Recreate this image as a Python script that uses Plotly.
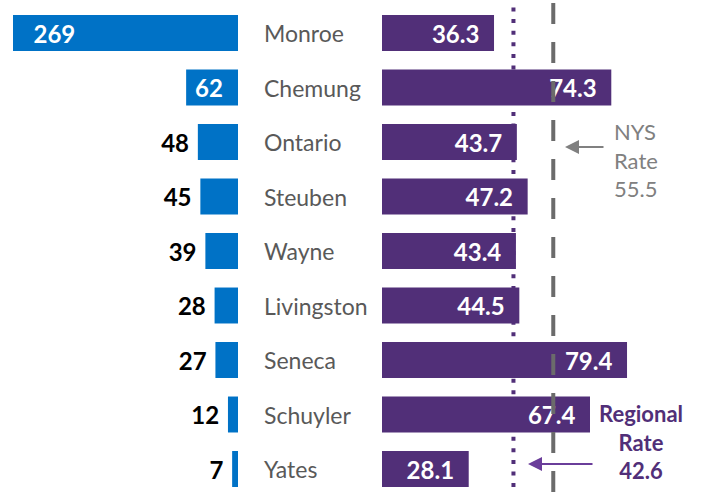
import plotly.graph_objects as go

# ---- data ----
counties = ["Monroe", "Chemung", "Ontario", "Steuben", "Wayne",
            "Livingston", "Seneca", "Schuyler", "Yates"]
counts = [269, 62, 48, 45, 39, 28, 27, 12, 7]
rates = [36.3, 74.3, 43.7, 47.2, 43.4, 44.5, 79.4, 67.4, 28.1]
nys_rate = 55.5
regional_rate = 42.6
count_textpos = ["inside", "inside", "outside", "outside", "outside",
                 "outside", "outside", "outside", "outside"]

W, H = 704, 492
BLUE = "#0072C6"
PURPLE = "#512F78"
FONT = "Lato"

fig = go.Figure()

fig.add_trace(go.Bar(
    y=counties, x=counts, orientation="h", xaxis="x", yaxis="y",
    marker=dict(color=BLUE, line=dict(width=0)), width=0.66,
    text=[str(c) for c in counts],
    texttemplate=["\u00a0\u00a0\u00a0%{text}", "\u00a0%{text}"] + ["%{text}\u00a0"] * 7,
    textposition=count_textpos, insidetextanchor="end",
    insidetextfont=dict(family=FONT, size=24, color="white", weight="bold"),
    outsidetextfont=dict(family=FONT, size=24, color="black", weight="bold"),
    cliponaxis=False, hoverinfo="skip", constraintext="none",
))

fig.add_trace(go.Bar(
    y=counties, x=rates, orientation="h", xaxis="x2", yaxis="y",
    marker=dict(color=PURPLE, line=dict(width=0)), width=0.66,
    text=[f"{r:.1f}" for r in rates],
    texttemplate="%{text}\u00a0\u00a0",
    textposition="inside", insidetextanchor="end",
    insidetextfont=dict(family=FONT, size=24, color="white", weight="bold"),
    hoverinfo="skip", constraintext="none",
))

# county names
for c in counties:
    fig.add_annotation(x=262 / W, xref="paper", y=c, yref="y", text=c,
                       showarrow=False, xanchor="left", yanchor="middle",
                       font=dict(family=FONT, size=23, color="#595959"))

# reference lines
fig.add_shape(type="line", xref="x2", yref="paper", x0=regional_rate, x1=regional_rate,
              y0=0.01, y1=1, layer="below",
              line=dict(color=PURPLE, width=4, dash="4px,7.6px"))
fig.add_shape(type="line", xref="x2", yref="paper", x0=nys_rate, x1=nys_rate,
              y0=0, y1=1, layer="above",
              line=dict(color="#6B6B6B", width=4, dash="21px,18px"))

# NYS annotation
fig.add_annotation(x=612 / W, xref="paper", y=1 - 160 / H, yref="paper",
                   text=f"NYS<br>Rate<br>{nys_rate}", showarrow=False,
                   xanchor="left", yanchor="middle", align="left",
                   font=dict(family=FONT, size=22, color="#808080"))
fig.add_annotation(x=565 / W, xref="paper", y=1 - 147 / H, yref="paper",
                   text="", showarrow=True, ax=40, ay=0,
                   arrowhead=2, arrowsize=1.4, arrowwidth=2, arrowcolor="#808080")

# Regional annotation
fig.add_annotation(x=641 / W, xref="paper", y=1 - 442 / H, yref="paper",
                   text=f"<b>Regional<br>Rate<br>{regional_rate}</b>", showarrow=False,
                   xanchor="center", yanchor="middle", align="center",
                   font=dict(family=FONT, size=22, color=PURPLE))
fig.add_annotation(x=528 / W, xref="paper", y=1 - 464 / H, yref="paper",
                   text="", showarrow=True, ax=66, ay=0,
                   arrowhead=2, arrowsize=1.4, arrowwidth=2, arrowcolor="#6A3D9A")

row_px = 54.5
top_center = 33
fig.update_layout(
    width=W, height=H,
    margin=dict(l=0, r=0, t=0, b=0),
    paper_bgcolor="white", plot_bgcolor="white",
    showlegend=False, barmode="overlay",
    xaxis=dict(domain=[0, 238 / W], range=[269 * 238 / 225, 0],
               visible=False, fixedrange=True),
    xaxis2=dict(domain=[382 / W, 1], range=[0, 322 / 3.086],
                visible=False, fixedrange=True, anchor="y"),
    yaxis=dict(type="category", visible=False, fixedrange=True,
               range=[8 + (H - (top_center + 8 * row_px)) / row_px, -top_center / row_px]),
    font=dict(family=FONT),
)

fig.write_html("out.html", config={"displayModeBar": False},
               post_script="document.body.style.margin='0';")
